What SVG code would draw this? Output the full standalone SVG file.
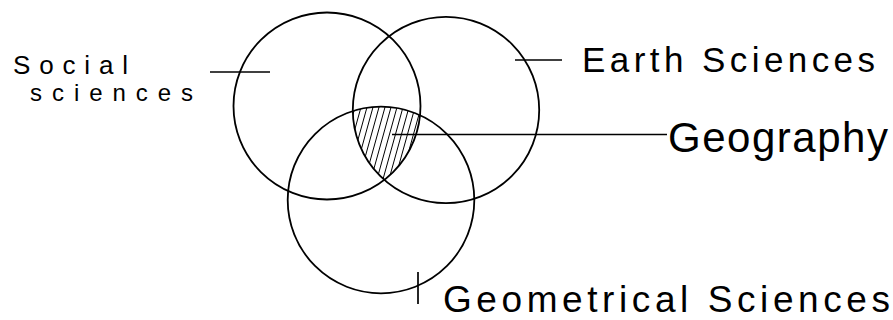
<svg xmlns="http://www.w3.org/2000/svg" width="893" height="320" viewBox="0 0 893 320">
  <style>
    .circle { fill: none; stroke: #000; stroke-width: 1.8; }
    .line { stroke: #000; stroke-width: 1.7; fill: none; }
    .hatch { stroke: #000; stroke-width: 1; }
    .label { font-family: "Liberation Sans", "DejaVu Sans", sans-serif; fill: #000; }
  </style>
  <defs>
    <clipPath id="c1"><circle cx="327" cy="106" r="93.5"/></clipPath>
    <clipPath id="c2" clip-path="url(#c1)"><circle cx="446" cy="110" r="93.2"/></clipPath>
    <clipPath id="c3" clip-path="url(#c2)"><circle cx="381" cy="200" r="93.3"/></clipPath>
  </defs>
  <rect width="893" height="320" fill="#fff"/>

  <g id="geography-hatch" clip-path="url(#c3)">
    <g class="hatch">
      <line x1="320" y1="190" x2="345" y2="100"/>
      <line x1="326" y1="190" x2="351" y2="100"/>
      <line x1="332" y1="190" x2="357" y2="100"/>
      <line x1="338" y1="190" x2="363" y2="100"/>
      <line x1="344" y1="190" x2="369" y2="100"/>
      <line x1="350" y1="190" x2="375" y2="100"/>
      <line x1="356" y1="190" x2="381" y2="100"/>
      <line x1="362" y1="190" x2="387" y2="100"/>
      <line x1="368" y1="190" x2="393" y2="100"/>
      <line x1="374" y1="190" x2="399" y2="100"/>
      <line x1="380" y1="190" x2="405" y2="100"/>
      <line x1="386" y1="190" x2="411" y2="100"/>
      <line x1="392" y1="190" x2="417" y2="100"/>
      <line x1="398" y1="190" x2="423" y2="100"/>
      <line x1="404" y1="190" x2="429" y2="100"/>
    </g>
  </g>

  <g id="social-sciences">
    <circle class="circle" cx="327" cy="106" r="93.5"/>
    <text class="label" x="13" y="74" font-size="26" textLength="115" lengthAdjust="spacing">Social</text>
    <text class="label" x="30" y="101" font-size="24" textLength="163" lengthAdjust="spacing">sciences</text>
  </g>

  <g id="earth-sciences">
    <circle class="circle" cx="446" cy="110" r="93.2"/>
    <text class="label" x="582" y="72" font-size="35" textLength="293" lengthAdjust="spacing">Earth Sciences</text>
  </g>

  <g id="geometrical-sciences">
    <circle class="circle" cx="381" cy="200" r="93.3"/>
    <text class="label" x="443" y="312" font-size="37" textLength="447" lengthAdjust="spacing">Geometrical Sciences</text>
  </g>

  <g id="geography">
    <text class="label" x="668" y="152" font-size="42" textLength="220" lengthAdjust="spacing">Geography</text>
  </g>

  <g id="connectors">
    <line class="line" x1="210" y1="72" x2="270" y2="72"/>
    <line class="line" x1="515" y1="60" x2="562" y2="60"/>
    <line class="line" x1="392" y1="134.5" x2="667" y2="134.5"/>
    <line class="line" x1="418" y1="272" x2="418" y2="304"/>
  </g>
</svg>
